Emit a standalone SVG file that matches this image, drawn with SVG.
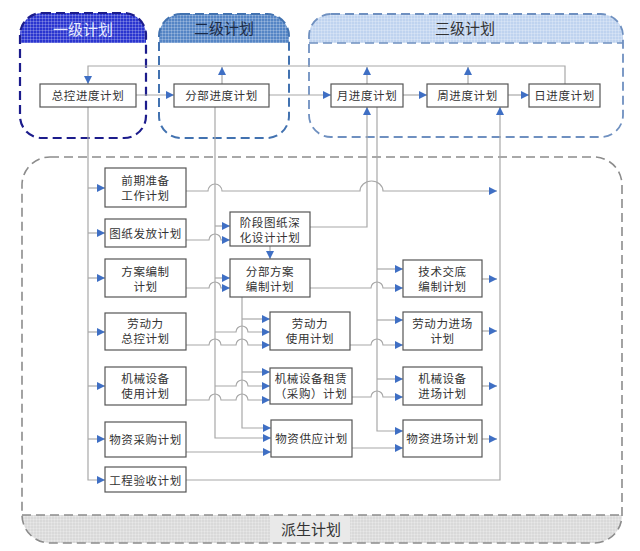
<svg xmlns="http://www.w3.org/2000/svg" width="640" height="551" viewBox="0 0 640 551">
<style>
.box{fill:#fff;stroke:#555;stroke-width:1.2}
.t{font-family:"Noto Sans CJK SC","Liberation Sans",sans-serif;font-size:11.5px;fill:#333;text-anchor:middle;letter-spacing:0.6px}
.h{font-family:"Noto Sans CJK SC","Liberation Sans",sans-serif;font-size:15px;text-anchor:middle}
.c{fill:none;stroke:#a8a8a8;stroke-width:1.2}
.a{marker-end:url(#arr)}
</style>
<defs>
<marker id="arr" markerUnits="userSpaceOnUse" markerWidth="9" markerHeight="8" refX="8" refY="4" orient="auto">
<path d="M0,0 L8,4 L0,8 Z" fill="#3f6fc4"/>
</marker>
<pattern id="grid" width="3" height="3" patternUnits="userSpaceOnUse">
<path d="M0,0.5H3M0.5,0V3" stroke="#fff" stroke-opacity="0.22" stroke-width="1"/>
</pattern>
</defs>

<g id="level1">
<path d="M20,43 V35 A22,22 0 0 1 42,13 H124 A22,22 0 0 1 146,35 V43 Z" fill="#2a35d0"/>
<path d="M20,43 V35 A22,22 0 0 1 42,13 H124 A22,22 0 0 1 146,35 V43 Z" fill="url(#grid)"/>
<rect x="20" y="13" width="126" height="125" rx="22" fill="none" stroke="#1c1c8c" stroke-width="2.2" stroke-dasharray="9,5"/>
<text class="h" x="83" y="35" fill="#e6ebff">一级计划</text>
</g>
<g id="level2">
<path d="M159,43 V36 A22,22 0 0 1 181,14 H267 A22,22 0 0 1 289,36 V43 Z" fill="#5585c5"/>
<path d="M159,43 V36 A22,22 0 0 1 181,14 H267 A22,22 0 0 1 289,36 V43 Z" fill="url(#grid)"/>
<rect x="159" y="14" width="130" height="124" rx="22" fill="none" stroke="#4272b0" stroke-width="2" stroke-dasharray="9,5"/>
<text class="h" x="224" y="34" fill="#1d2b45">二级计划</text>
</g>
<g id="level3">
<path d="M309,43 V36 A22,22 0 0 1 331,14 H601 A22,22 0 0 1 623,36 V43 Z" fill="#bfd3ef"/>
<path d="M309,43 V36 A22,22 0 0 1 331,14 H601 A22,22 0 0 1 623,36 V43 Z" fill="url(#grid)"/>
<rect x="309" y="14" width="314" height="123" rx="22" fill="none" stroke="#6f90c0" stroke-width="1.8" stroke-dasharray="9,5"/>
<line x1="309" y1="43" x2="623" y2="43" stroke="#6f90c0" stroke-width="1.5" stroke-dasharray="9,5"/>
<text class="h" x="465" y="34" fill="#333">三级计划</text>
</g>
<g id="derived">
<path d="M22,515 H622 A28,28 0 0 1 594,543 H50 A28,28 0 0 1 22,515 Z" fill="#d9d9d9"/>
<path d="M22,515 H622 A28,28 0 0 1 594,543 H50 A28,28 0 0 1 22,515 Z" fill="url(#grid)"/>
<rect x="270" y="516" width="80" height="27" fill="#e9e9e9"/>
<rect x="22" y="157" width="600" height="386" rx="28" fill="none" stroke="#8c8c8c" stroke-width="1.6" stroke-dasharray="9,5"/>
<line x1="22" y1="515" x2="622" y2="515" stroke="#8c8c8c" stroke-width="1.5" stroke-dasharray="9,5"/>
<text class="h" x="311" y="535" fill="#333">派生计划</text>
</g>

<g id="connectors">
<path class="c a" d="M136,95 H174"/>
<path class="c a" d="M269,95 H331"/>
<path class="c a" d="M403,95 H427"/>
<path class="c a" d="M508,95 H529"/>
<path class="c a" d="M565,84 V66 H88 V84"/>
<path class="c a" d="M222,84 V67"/>
<path class="c a" d="M367,84 V67"/>
<path class="c a" d="M468,84 V67"/>

<path class="c a" d="M88,107 V480 H105"/>
<path class="c a" d="M88,188 H105"/>
<path class="c a" d="M88,233 H105"/>
<path class="c a" d="M88,278 H105"/>
<path class="c a" d="M88,332 H105"/>
<path class="c a" d="M88,386 H105"/>
<path class="c a" d="M88,439 H105"/>

<path class="c a" d="M215,107 V438 H271"/>
<path class="c a" d="M215,226 H230"/>
<path class="c a" d="M215,278 H230"/>
<path class="c a" d="M215,332 H236 a6,6 0 0 1 12,0 H270"/>
<path class="c a" d="M215,386 H236 a6,6 0 0 1 12,0 H270"/>

<path class="c a" d="M242,297 V428 H271"/>
<path class="c a" d="M242,319 H270"/>
<path class="c a" d="M242,372 H270"/>

<path class="c a" d="M186,191 H208 a7,7 0 0 1 14,0 H360 a11.5,10 0 0 1 23,0 H497"/>
<path class="c a" d="M186,240 H209 a6,6 0 0 1 12,0 H230"/>
<path class="c a" d="M186,288 H209 a6,6 0 0 1 12,0 H230"/>
<path class="c a" d="M186,345 H209 a6,6 0 0 1 12,0 H236 a6,6 0 0 1 12,0 H270"/>
<path class="c a" d="M186,400 H209 a6,6 0 0 1 12,0 H236 a6,6 0 0 1 12,0 H270"/>
<path class="c a" d="M186,452 H271"/>
<path class="c a" d="M186,480 H500 V107"/>

<path class="c a" d="M270,246 V259"/>
<path class="c a" d="M310,227 H367 V107"/>
<path class="c a" d="M310,288 H371 a6,6 0 0 1 12,0 H403"/>
<path class="c a" d="M350,345 H371 a6,6 0 0 1 12,0 H403"/>
<path class="c a" d="M352,397 H371 a6,6 0 0 1 12,0 H403"/>
<path class="c a" d="M352,448 H403"/>

<path class="c a" d="M377,107 V431 H403"/>
<path class="c a" d="M377,269 H403"/>
<path class="c a" d="M377,320 H403"/>
<path class="c a" d="M377,379 H403"/>

<path class="c a" d="M482,279 H497"/>
<path class="c a" d="M482,331 H497"/>
<path class="c a" d="M482,386 H497"/>
<path class="c a" d="M482,439 H497"/>
</g>

<g id="n-zongkong"><rect class="box" x="40" y="84" width="96" height="23"/><text class="t" x="88" y="99.5">总控进度计划</text></g>
<g id="n-fenbu"><rect class="box" x="174" y="84" width="95" height="23"/><text class="t" x="221.5" y="99.5">分部进度计划</text></g>
<g id="n-yue"><rect class="box" x="331" y="84" width="72" height="23"/><text class="t" x="367" y="99.5">月进度计划</text></g>
<g id="n-zhou"><rect class="box" x="427" y="84" width="81" height="23"/><text class="t" x="467.5" y="99.5">周进度计划</text></g>
<g id="n-ri"><rect class="box" x="529" y="84" width="71" height="23"/><text class="t" x="564.5" y="99.5">日进度计划</text></g>

<g id="n-qianqi"><rect class="box" x="105" y="168" width="81" height="39"/><text class="t" x="145.5" y="185">前期准备</text><text class="t" x="145.5" y="200">工作计划</text></g>
<g id="n-tuzhi"><rect class="box" x="105" y="219" width="81" height="28"/><text class="t" x="145.5" y="237.5">图纸发放计划</text></g>
<g id="n-fangan"><rect class="box" x="105" y="259" width="81" height="38"/><text class="t" x="145.5" y="275.5">方案编制</text><text class="t" x="145.5" y="290.5">计划</text></g>
<g id="n-laodong-zk"><rect class="box" x="105" y="313" width="81" height="37"/><text class="t" x="145.5" y="328">劳动力</text><text class="t" x="145.5" y="343">总控计划</text></g>
<g id="n-jixie-sy"><rect class="box" x="105" y="367" width="81" height="38"/><text class="t" x="145.5" y="383">机械设备</text><text class="t" x="145.5" y="398">使用计划</text></g>
<g id="n-wuzi-cg"><rect class="box" x="105" y="422" width="81" height="35"/><text class="t" x="145.5" y="443.5">物资采购计划</text></g>
<g id="n-gongcheng"><rect class="box" x="105" y="467" width="81" height="25"/><text class="t" x="145.5" y="484.5">工程验收计划</text></g>

<g id="n-jieduan"><rect class="box" x="230" y="212" width="80" height="34"/><text class="t" x="270" y="226.5">阶段图纸深</text><text class="t" x="270" y="242">化设计计划</text></g>
<g id="n-fenbu-fa"><rect class="box" x="230" y="259" width="80" height="38"/><text class="t" x="270" y="275.5">分部方案</text><text class="t" x="270" y="290.5">编制计划</text></g>
<g id="n-laodong-sy"><rect class="box" x="270" y="312" width="80" height="38"/><text class="t" x="310" y="328">劳动力</text><text class="t" x="310" y="343">使用计划</text></g>
<g id="n-jixie-zl"><rect class="box" x="270" y="368" width="82" height="36"/><text class="t" x="311" y="382.5">机械设备租赁</text><text class="t" x="311" y="397.5">（采购）计划</text></g>
<g id="n-wuzi-gy"><rect class="box" x="271" y="420" width="81" height="37"/><text class="t" x="311.5" y="442.5">物资供应计划</text></g>

<g id="n-jishu"><rect class="box" x="403" y="260" width="79" height="37"/><text class="t" x="442.5" y="276">技术交底</text><text class="t" x="442.5" y="291">编制计划</text></g>
<g id="n-laodong-jc"><rect class="box" x="403" y="312" width="79" height="38"/><text class="t" x="442.5" y="327.5">劳动力进场</text><text class="t" x="442.5" y="342.5">计划</text></g>
<g id="n-jixie-jc"><rect class="box" x="403" y="367" width="79" height="38"/><text class="t" x="442.5" y="382.5">机械设备</text><text class="t" x="442.5" y="397.5">进场计划</text></g>
<g id="n-wuzi-jc"><rect class="box" x="403" y="420" width="79" height="37"/><text class="t" x="442.5" y="443">物资进场计划</text></g>
</svg>
